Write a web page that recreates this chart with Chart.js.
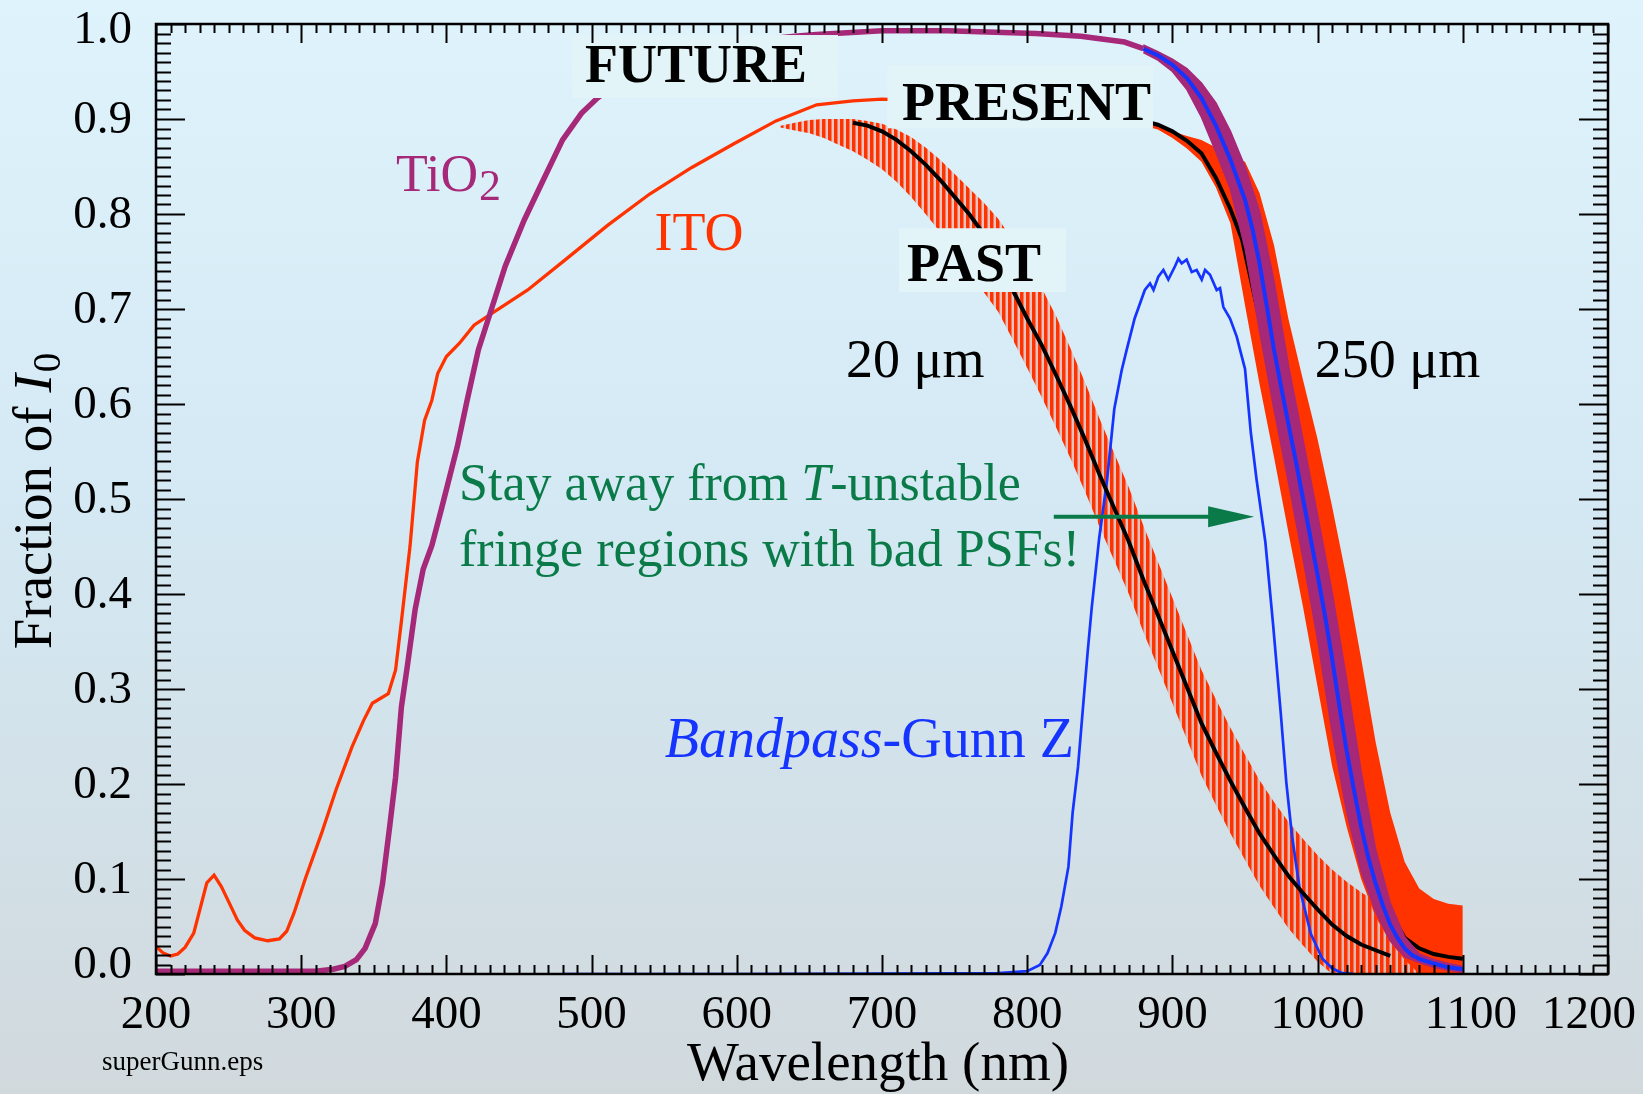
<!DOCTYPE html>
<html><head><meta charset="utf-8">
<script src="https://cdn.jsdelivr.net/npm/chart.js@4.4.1/dist/chart.umd.min.js"></script>
<style>html,body{margin:0;padding:0;overflow:hidden;background:#d6e9f2}canvas{display:block}</style>
</head><body>
<canvas id="c" width="1643" height="1094"></canvas>
<script>
// ---------- data (wavelength in nm, fraction of I0) ----------
const xTickValues = [200,300,400,500,600,700,800,900,1000,1100,1200];
const xTickLabels = ['200','300','400','500','600','700','800','900','1000','1100','1200'];
const yTickValues = [0,0.1,0.2,0.3,0.4,0.5,0.6,0.7,0.8,0.9,1.0];
const yTickLabels = ['0.0','0.1','0.2','0.3','0.4','0.5','0.6','0.7','0.8','0.9','1.0'];

// ITO coating transmission (thin red line)
const itoNm = [200,205,210,215,220,226,235,240,245,251,256,261,268,277,285,290,295,303,314,324,335,343,349,360,365,369,375,380,385,390,394,400,409,419,430,456,482,511,540,569,598,627,655,680,700,750,800,850,880];
const itoT  = [0.029,0.022,0.019,0.021,0.028,0.043,0.096,0.104,0.092,0.073,0.057,0.046,0.038,0.035,0.037,0.045,0.064,0.101,0.148,0.194,0.239,0.267,0.285,0.295,0.320,0.371,0.451,0.539,0.583,0.604,0.632,0.650,0.664,0.683,0.694,0.720,0.752,0.788,0.821,0.849,0.874,0.898,0.915,0.919,0.921,0.918,0.912,0.905,0.898];

// TiO2 coating transmission (thick magenta line)
const tioNm = [200,310,322,330,338,344,351,356,361,365,369,373,378.5,384,390,396,401,407.5,414,422,430,440.5,453.7,466.8,480,493,504,520,540,560,580,600,620,640,655,700,745,806,837,867,880];
const tioT  = [0.003,0.003,0.005,0.008,0.015,0.027,0.053,0.095,0.156,0.207,0.281,0.323,0.384,0.426,0.451,0.486,0.516,0.555,0.602,0.657,0.695,0.745,0.794,0.836,0.878,0.906,0.922,0.940,0.955,0.966,0.975,0.980,0.984,0.987,0.989,0.993,0.993,0.990,0.987,0.981,0.974];

// FUTURE (250 um, TiO2): fringe envelope + smoothed curve
const bandNm    = [880,890,900,910,920,930,940,950,960,970,980,990,1000,1010,1020,1030,1040,1050,1060,1070,1080,1090,1100];
const futUpper  = [0.978,0.971,0.963,0.953,0.938,0.917,0.887,0.850,0.803,0.729,0.640,0.562,0.483,0.402,0.310,0.213,0.131,0.075,0.039,0.021,0.015,0.011,0.008];
const futLower  = [0.970,0.962,0.950,0.931,0.902,0.865,0.826,0.764,0.677,0.594,0.517,0.437,0.352,0.255,0.171,0.108,0.065,0.035,0.018,0.012,0.007,0.004,0.002];
const futNm     = [880,890,900,910,920,930,940,950,955,960,965,970,975,980,985,990,995,1000,1005,1010,1015,1020,1025,1030,1035,1040,1045,1050,1055,1060,1065,1070,1080,1090,1100];
const futSmooth = [0.974,0.967,0.957,0.943,0.922,0.893,0.857,0.815,0.785,0.748,0.703,0.657,0.617,0.578,0.540,0.500,0.460,0.420,0.378,0.332,0.282,0.235,0.194,0.155,0.122,0.095,0.072,0.052,0.038,0.027,0.020,0.016,0.011,0.007,0.005];

// PRESENT (250 um, ITO): fringe envelope + smoothed curve
const presUpper = [0.897,0.894,0.887,0.882,0.878,0.870,0.862,0.855,0.822,0.767,0.689,0.625,0.563,0.492,0.416,0.332,0.244,0.170,0.118,0.090,0.079,0.074,0.072];
const presLower = [0.893,0.889,0.880,0.869,0.855,0.828,0.790,0.704,0.621,0.544,0.464,0.386,0.302,0.219,0.155,0.100,0.060,0.034,0.015,0.000,0.000,0.000,0.000];
const presNm     = [880,890,900,910,920,930,940,948,960,970,980,990,1000,1010,1020,1030,1040,1050,1060,1070,1080,1090,1100];
const presSmooth = [0.898,0.894,0.887,0.877,0.864,0.838,0.805,0.773,0.690,0.617,0.548,0.476,0.400,0.322,0.244,0.170,0.115,0.065,0.038,0.027,0.021,0.018,0.016];

// PAST (20 um, ITO): fringe envelope + smoothed curve
const pastNm    = [630,640,650,660,670,680,690,700,710,720,730,740,750,760,770,780,790,800,810,820,830,840,850,860,870,880,890,900,910,920,930,940,950,960,970,980,990,1000,1010,1020,1030,1040,1050,1060,1070,1075];
const pastUpper = [0.893,0.896,0.899,0.900,0.900,0.900,0.898,0.895,0.889,0.881,0.870,0.857,0.842,0.827,0.812,0.795,0.773,0.748,0.722,0.692,0.658,0.622,0.584,0.548,0.512,0.472,0.434,0.396,0.358,0.320,0.289,0.259,0.231,0.204,0.181,0.160,0.142,0.125,0.110,0.097,0.086,0.076,0.066,0.056,0.046,0.040];
const pastLower = [0.891,0.888,0.885,0.880,0.873,0.866,0.857,0.847,0.834,0.818,0.800,0.781,0.760,0.740,0.718,0.697,0.668,0.638,0.607,0.575,0.542,0.507,0.470,0.435,0.400,0.360,0.323,0.285,0.247,0.209,0.178,0.148,0.120,0.093,0.070,0.048,0.030,0.013,0,0,0,0,0,0,0,0];
const pastSmNm  = [680,690,700,710,720,730,740,750,760,770,780,790,800,810,820,830,840,850,860,870,880,890,900,910,920,930,940,950,960,970,980,990,1000,1010,1020,1030,1040,1050];
const pastSmooth= [0.896,0.893,0.887,0.878,0.866,0.852,0.836,0.818,0.800,0.779,0.752,0.720,0.690,0.662,0.630,0.597,0.562,0.525,0.490,0.455,0.415,0.378,0.340,0.302,0.264,0.233,0.203,0.175,0.148,0.125,0.103,0.085,0.068,0.052,0.040,0.031,0.025,0.019];

// Gunn Z bandpass
const gunnNm = [480,600,700,780,800,808.7,814,819.3,823.5,828.4,831.3,835,839.1,841.7,844.4,849.6,855,860,865,868.5,874,881,884.6,887,890.3,893.8,897.2,901.8,904.1,906.4,909.8,913.3,916.7,920.2,922.5,925.9,930.5,932.8,935.1,939.7,944.3,946.6,950,954,958,964,969.4,974.6,978.5,982.4,987.6,995.4,1003.3,1010,1016.3,1025];
const gunnT  = [0,0,0.0005,0.001,0.003,0.0095,0.022,0.043,0.071,0.113,0.170,0.218,0.293,0.340,0.385,0.459,0.520,0.595,0.635,0.657,0.690,0.720,0.727,0.720,0.734,0.741,0.731,0.745,0.753,0.748,0.752,0.739,0.741,0.731,0.741,0.736,0.720,0.722,0.702,0.690,0.671,0.657,0.637,0.570,0.520,0.455,0.367,0.275,0.201,0.145,0.090,0.042,0.016,0.006,0.0013,0];

// ---------- styles ----------
const RED = '#ff3300', MAG = '#a62878', BLUE = '#1634ff', GREEN = '#0a7b48', NONE = 'rgba(0,0,0,0)';
const SERIF = '"Liberation Serif","Times New Roman",serif';
const xLabelShift = {1100: 8, 1200: -19};

const pts = (xs, ys) => xs.map((v, i) => ({x: v, y: ys[i]}));

function stripePattern() {
  const c = document.createElement('canvas'); c.width = 6; c.height = 6;
  const g = c.getContext('2d');
  g.fillStyle = 'rgba(255,51,0,0.22)'; g.fillRect(0, 0, 6, 6);
  g.fillStyle = RED; g.fillRect(0, 0, 3.5, 6);
  return g.createPattern(c, 'repeat');
}

const deco = {
  id: 'deco',
  beforeDraw(chart) {
    const {ctx, width, height} = chart;
    const g = ctx.createLinearGradient(0, 0, 0, height);
    g.addColorStop(0, '#dff3fc'); g.addColorStop(0.45, '#d4e9f4'); g.addColorStop(1, '#d1d9dd');
    ctx.save(); ctx.fillStyle = g; ctx.fillRect(0, 0, width, height); ctx.restore();
  },
  afterDatasetsDraw(chart) {
    const {ctx, chartArea: a} = chart;
    const xs = chart.scales.x, ys = chart.scales.y;
    const X = v => xs.getPixelForValue(v), Y = v => ys.getPixelForValue(v);
    ctx.save();
    // label boxes
    ctx.fillStyle = '#e3f4f8';
    const box = (x0, x1, v0, v1) => ctx.fillRect(X(x0), Y(v0), X(x1) - X(x0), Y(v1) - Y(v0));
    box(486.7, 669.7, 0.9884, 0.9221);
    box(703.8, 886.6, 0.9568, 0.8902);
    box(711.7, 826.7, 0.785, 0.7179);
    ctx.textBaseline = 'alphabetic'; ctx.textAlign = 'left';
    ctx.fillStyle = '#000';
    ctx.font = 'bold 54px ' + SERIF;
    ctx.fillText('FUTURE', X(495.5), Y(0.939));
    ctx.fillText('PRESENT', X(713.8), Y(0.8989));
    ctx.fillText('PAST', X(717.2), Y(0.7295));
    // curve labels
    ctx.font = '52px ' + SERIF; ctx.fillStyle = MAG;
    ctx.fillText('TiO', X(365.3), Y(0.8242));
    let w = ctx.measureText('TiO').width;
    ctx.font = '44px ' + SERIF;
    ctx.fillText('2', X(365.3) + w + 1, Y(0.8242) + 9);
    ctx.font = '54px ' + SERIF; ctx.fillStyle = RED;
    ctx.fillText('ITO', X(543.3), Y(0.7616));
    ctx.fillStyle = '#000';
    ctx.fillText('20 \u03bcm', X(675.2), Y(0.6287));
    ctx.fillText('250 \u03bcm', X(998), Y(0.6287));
    // green note
    ctx.fillStyle = GREEN; ctx.font = '52px ' + SERIF;
    let x0 = X(408.7), b1 = Y(0.4989);
    ctx.fillText('Stay away from ', x0, b1);
    let w1 = ctx.measureText('Stay away from ').width;
    ctx.font = 'italic 52px ' + SERIF;
    ctx.fillText('T', x0 + w1, b1);
    let w2 = ctx.measureText('T').width;
    ctx.font = '52px ' + SERIF;
    ctx.fillText('-unstable', x0 + w1 + w2, b1);
    ctx.fillText('fringe regions with bad PSFs!', x0, Y(0.4295));
    // arrow
    const ay = Y(0.4814), ax0 = X(818.3), ax1 = X(956.3);
    ctx.strokeStyle = GREEN; ctx.lineWidth = 4;
    ctx.beginPath(); ctx.moveTo(ax0, ay); ctx.lineTo(ax1 - 40, ay); ctx.stroke();
    ctx.beginPath(); ctx.moveTo(ax1, ay); ctx.lineTo(ax1 - 46, ay - 10.5); ctx.lineTo(ax1 - 46, ay + 10.5); ctx.closePath(); ctx.fill();
    // bandpass label
    ctx.fillStyle = BLUE; ctx.font = 'italic 56px ' + SERIF;
    ctx.fillText('Bandpass', X(550.4), Y(0.2287));
    let wb = ctx.measureText('Bandpass').width;
    ctx.font = '56px ' + SERIF;
    ctx.fillText('-Gunn Z', X(550.4) + wb, Y(0.2287));

    // frame and inward ticks
    ctx.strokeStyle = '#000'; ctx.lineWidth = 2.5;
    ctx.strokeRect(a.left, a.top, a.right - a.left, a.bottom - a.top);
    ctx.lineWidth = 2;
    ctx.beginPath();
    for (let n = 200; n <= 1200; n += 10) {
      const px = Math.round(X(n)) + 0.5, len = (n % 100 === 0) ? 19 : 9;
      ctx.moveTo(px, a.bottom); ctx.lineTo(px, a.bottom - len);
      ctx.moveTo(px, a.top); ctx.lineTo(px, a.top + len);
    }
    for (let i = 0; i <= 100; i++) {
      const py = Math.round(Y(i / 100)) + 0.5, len = (i % 10 === 0) ? 29 : 15;
      ctx.moveTo(a.left, py); ctx.lineTo(a.left + len, py);
      ctx.moveTo(a.right, py); ctx.lineTo(a.right - len, py);
    }
    ctx.stroke();
    // tick labels
    ctx.fillStyle = '#000'; ctx.font = '47px ' + SERIF;
    ctx.textAlign = 'center';
    xTickValues.forEach((v, i) => ctx.fillText(xTickLabels[i], X(v) + (xLabelShift[v] || 0), a.bottom + 54));
    ctx.textAlign = 'right';
    yTickValues.forEach((v, i) => {
      let off = 14.3;
      if (i === 0) off = 4.3;
      if (i === yTickValues.length - 1) off = 19.3;
      ctx.fillText(yTickLabels[i], a.left - 24, Y(v) + off);
    });
    // axis titles
    ctx.textAlign = 'center'; ctx.font = '55px ' + SERIF;
    ctx.fillText('Wavelength (nm)', (a.left + a.right) / 2 - 4, 1080);
    ctx.save();
    ctx.translate(51, (a.top + a.bottom) / 2 + 2); ctx.rotate(-Math.PI / 2);
    ctx.textAlign = 'left';
    ctx.font = '55px ' + SERIF; const p1 = 'Fraction of '; const wp1 = ctx.measureText(p1).width;
    ctx.font = 'italic 55px ' + SERIF; const wp2 = ctx.measureText('I').width;
    ctx.font = '39px ' + SERIF; const wp3 = ctx.measureText('0').width;
    const tot = wp1 + wp2 + wp3 + 2; let sx = -tot / 2;
    ctx.font = '55px ' + SERIF; ctx.fillText(p1, sx, 0);
    ctx.font = 'italic 55px ' + SERIF; ctx.fillText('I', sx + wp1, 0);
    ctx.font = '39px ' + SERIF; ctx.fillText('0', sx + wp1 + wp2 + 2, 9);
    ctx.restore();
    ctx.textAlign = 'left'; ctx.font = '27px ' + SERIF;
    ctx.fillText('superGunn.eps', 102, 1070);
    ctx.restore();
  }
};

const thin = {borderColor: NONE, borderWidth: 1, pointRadius: 0};
new Chart(document.getElementById('c'), {
  type: 'line',
  data: {
    datasets: [
      {label: 'FUTURE smoothed', data: pts(futNm, futSmooth), borderColor: BLUE, borderWidth: 4, pointRadius: 0, fill: false, order: 0},
      {label: 'FUTURE envelope', data: pts(bandNm, futUpper), borderColor: MAG, borderWidth: 1.5, pointRadius: 0, backgroundColor: MAG, fill: '+1', order: 1},
      {label: 'FUTURE envelope low', data: pts(bandNm, futLower), borderColor: MAG, borderWidth: 1.5, pointRadius: 0, fill: false, order: 2},
      {label: 'TiO2', data: pts(tioNm, tioT), borderColor: MAG, borderWidth: 5.5, pointRadius: 0, fill: false, order: 3},
      {label: 'PRESENT smoothed', data: pts(presNm, presSmooth), borderColor: '#000', borderWidth: 4, pointRadius: 0, fill: false, order: 4},
      Object.assign({label: 'PRESENT envelope', data: pts(bandNm, presUpper), backgroundColor: RED, fill: '+1', order: 5}, thin),
      Object.assign({label: 'PRESENT envelope low', data: pts(bandNm, presLower), fill: false, order: 6}, thin),
      {label: 'PAST smoothed', data: pts(pastSmNm, pastSmooth), borderColor: '#000', borderWidth: 4, pointRadius: 0, fill: false, order: 7},
      {label: 'Gunn Z', data: pts(gunnNm, gunnT), borderColor: BLUE, borderWidth: 2.7, pointRadius: 0, fill: false, order: 8},
      Object.assign({label: 'PAST envelope', data: pts(pastNm, pastUpper), backgroundColor: stripePattern(), fill: '+1', order: 9}, thin),
      Object.assign({label: 'PAST envelope low', data: pts(pastNm, pastLower), fill: false, order: 10}, thin),
      {label: 'ITO', data: pts(itoNm, itoT), borderColor: RED, borderWidth: 3.3, pointRadius: 0, fill: false, order: 11}
    ]
  },
  options: {
    responsive: false, animation: false, devicePixelRatio: 1, events: [],
    layout: {padding: {left: 156, right: 35, top: 24, bottom: 120}},
    scales: {
      x: {type: 'linear', min: 200, max: 1200, display: false},
      y: {type: 'linear', min: 0, max: 1, display: false}
    },
    plugins: {legend: {display: false}, tooltip: {enabled: false}},
    elements: {line: {tension: 0}}
  },
  plugins: [deco]
});
</script>
</body></html>
